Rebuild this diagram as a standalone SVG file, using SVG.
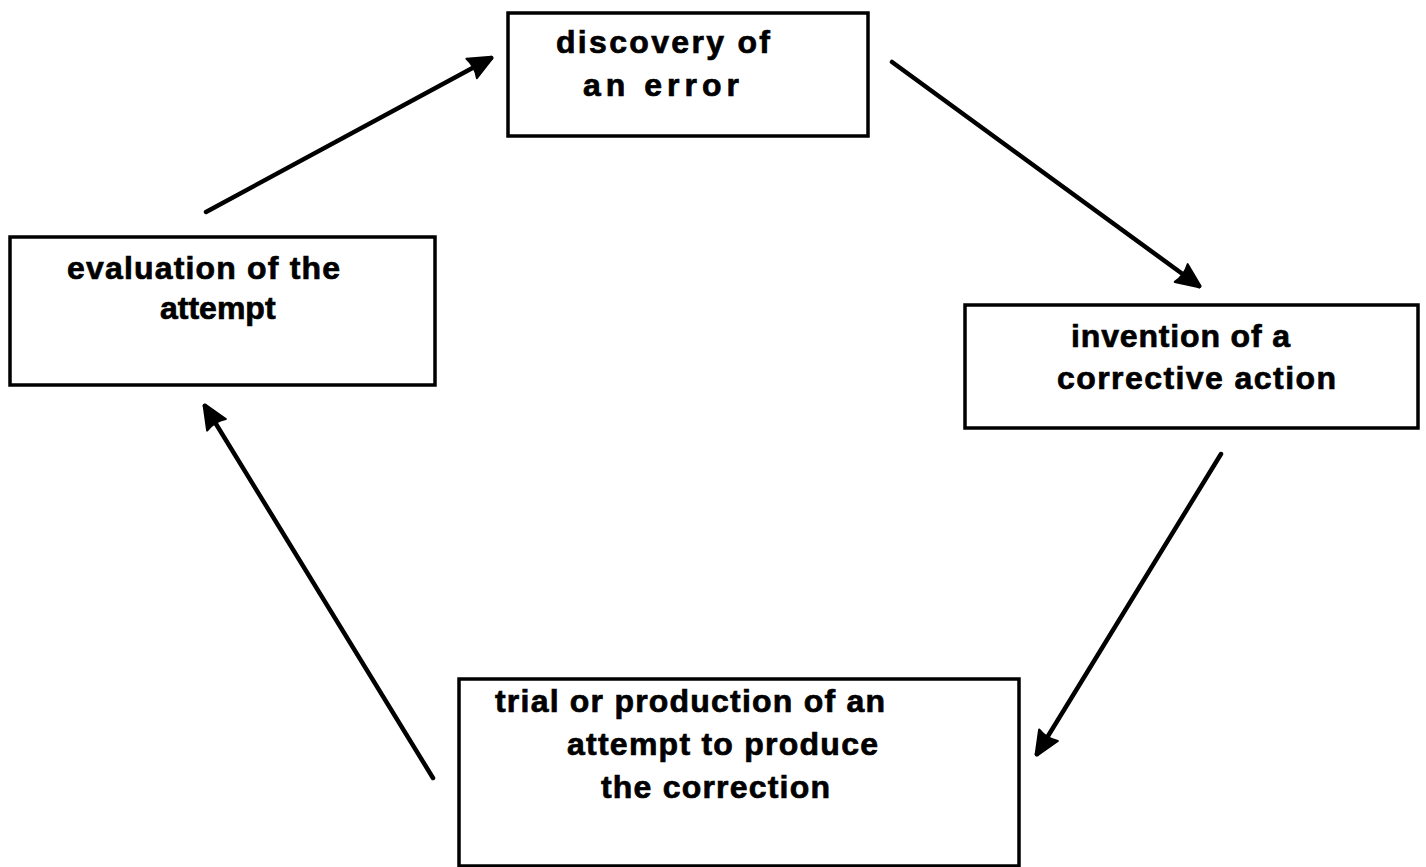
<svg xmlns="http://www.w3.org/2000/svg" width="1426" height="867" viewBox="0 0 1426 867">
<style>
.box{fill:#fff;stroke:#000;stroke-width:3.5}
.lbl{font-family:"Liberation Sans",Arial,sans-serif;font-weight:bold;font-size:32px;fill:#000;stroke:#000;stroke-width:0.7}
.conn{stroke:#000;stroke-width:4.5;fill:none;stroke-linecap:round}
</style>
<defs>
<marker id="ah" markerUnits="userSpaceOnUse" markerWidth="30" markerHeight="30" viewBox="0 0 30 30" refX="26" refY="15" orient="auto">
<path d="M4,4 Q8,15 4,26 L27,16 Q28,15 27,14 Z" fill="#000" stroke="#000" stroke-width="2" stroke-linejoin="round"/>
</marker>
</defs>
<rect width="1426" height="867" fill="#fff"/>
<g id="n-discovery">
<rect class="box" x="508" y="13" width="360" height="123"/>
<text class="lbl" x="556" y="53" textLength="214" lengthAdjust="spacing">discovery of</text>
<text class="lbl" x="583" y="96" textLength="156" lengthAdjust="spacing">an error</text>
</g>
<g id="n-invention">
<rect class="box" x="965" y="305" width="453" height="123"/>
<text class="lbl" x="1071" y="347" textLength="219" lengthAdjust="spacing">invention of a</text>
<text class="lbl" x="1057" y="389" textLength="279" lengthAdjust="spacing">corrective action</text>
</g>
<g id="n-trial">
<rect class="box" x="459" y="679" width="560" height="187"/>
<text class="lbl" x="495" y="712" textLength="390" lengthAdjust="spacing">trial or production of an</text>
<text class="lbl" x="567" y="755" textLength="311" lengthAdjust="spacing">attempt to produce</text>
<text class="lbl" x="601" y="798" textLength="229" lengthAdjust="spacing">the correction</text>
</g>
<g id="n-evaluation">
<rect class="box" x="10" y="237" width="425" height="148"/>
<text class="lbl" x="67" y="279" textLength="273" lengthAdjust="spacing">evaluation of the</text>
<text class="lbl" x="160" y="319">attempt</text>
</g>
<g id="connectors">
<line class="conn" x1="206" y1="212" x2="491" y2="58" marker-end="url(#ah)"/>
<line class="conn" x1="892" y1="62" x2="1199" y2="286" marker-end="url(#ah)"/>
<line class="conn" x1="1221" y1="454" x2="1037" y2="754" marker-end="url(#ah)"/>
<line class="conn" x1="433" y1="778" x2="205" y2="406" marker-end="url(#ah)"/>
</g>
</svg>
